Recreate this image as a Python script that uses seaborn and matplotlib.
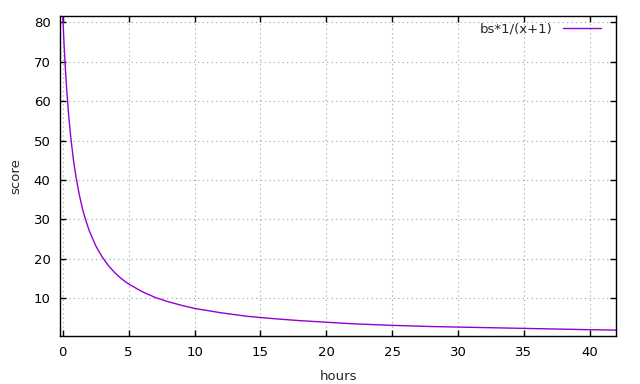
import matplotlib
matplotlib.use("Agg")
import matplotlib.pyplot as plt
import pandas as pd
import seaborn as sns

# values
HOURS = [0, 0.1, 0.2, 0.3, 0.45, 0.6, 0.8, 1, 1.25, 1.5, 1.75, 2, 2.5, 3, 3.5, 4,
         4.5, 5, 6, 7, 8, 9, 10, 12, 14, 16, 18, 20, 22, 25, 28, 31, 34, 37, 40, 42]
SCORE = [81.6, 74.2, 68.0, 62.8, 56.3, 51.0, 45.3, 40.8, 36.3, 32.6, 29.7, 27.2,
         23.3, 20.4, 18.1, 16.3, 14.8, 13.6, 11.7, 10.2, 9.1, 8.2, 7.4, 6.3, 5.4,
         4.8, 4.3, 3.9, 3.5, 3.1, 2.8, 2.6, 2.4, 2.2, 2.0, 1.9]
X_TICKS = [0, 5, 10, 15, 20, 25, 30, 35, 40]
Y_TICKS = [10, 20, 30, 40, 50, 60, 70, 80]
SERIES_LABEL = "bs*1/(x+1)"


def main():
    sns.set_theme(style="ticks")
    plt.rcParams["font.family"] = ["DejaVu Sans"]
    plt.rcParams["font.size"] = 9

    df = pd.DataFrame({"hours": HOURS, "score": SCORE})

    fig = plt.figure(figsize=(6.4, 3.84), dpi=100)
    ax = fig.add_axes([0.094, 0.125, 0.8685, 0.833])

    sns.lineplot(data=df, x="hours", y="score", color="#9400d3", linewidth=1.0,
                 label=SERIES_LABEL, ax=ax)

    ax.set_xlim(-0.2, 42)
    ax.set_ylim(0.4, 81.6)
    ax.set_xticks(X_TICKS)
    ax.set_yticks(Y_TICKS)
    ax.tick_params(direction="in", top=True, right=True, length=4, width=1,
                   labelsize=9.5, colors="black", pad=7)
    for spine in ax.spines.values():
        spine.set_visible(True)
        spine.set_color("black")
        spine.set_linewidth(1)
    ax.grid(True, color="#a0a0a0", linestyle=(0, (1, 3)), linewidth=0.8)

    ax.set_xlabel("hours", fontsize=9.5, labelpad=8)
    ax.set_ylabel("score", fontsize=9.5, labelpad=8)

    ax.legend(loc="upper right", bbox_to_anchor=(0.99, 1.01), frameon=False,
              markerfirst=False, fontsize=9.5, handlelength=2.9,
              handletextpad=0.8, borderaxespad=0.3)

    fig.savefig("out.png", dpi=100)
    plt.close(fig)


if __name__ == "__main__":
    main()
